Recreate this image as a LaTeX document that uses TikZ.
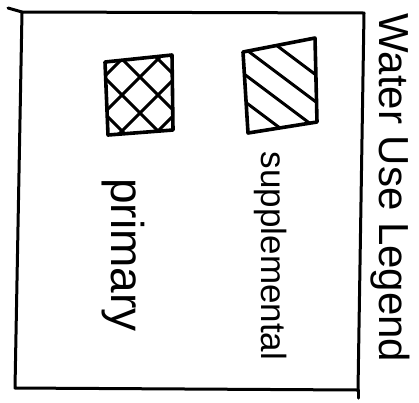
\documentclass[tikz,border=0pt]{standalone}
\usepackage{fontspec}
\setmainfont{Liberation Sans}
\begin{document}
\begin{tikzpicture}[x=1pt,y=-1pt,line cap=round,line join=round,frame/.style={line width=3pt},swatch/.style={line width=3.6pt},hatch/.style={line width=3pt},legtext/.style={rotate=-90,inner sep=0pt,font=\fontsize{#1}{#1}\selectfont},legtext/.default=40]
\useasboundingbox (0,0) rectangle (419,402);
% outer frame
\coordinate (tl) at (22,12);\coordinate (tr) at (364,13);\coordinate (br) at (358,390);\coordinate (bl) at (15,388);
\draw[frame] (tl)--(tr)--(br)--(bl)--cycle;
\draw[frame] (tl)--++(-14,-4);\draw[frame] (br)--++(0,8);
% primary swatch, crosshatch
\coordinate (p1) at (105,62);\coordinate (p2) at (172,55);\coordinate (p3) at (173,130);\coordinate (p4) at (108,135);
\begin{scope}
\clip (p1)--(p2)--(p3)--(p4)--cycle;
\foreach \d in {-54,-18,18,54}{\draw[hatch] (80+\d,35)--++(120,120);\draw[hatch] (80+\d,155)--++(120,-120);}
\end{scope}
\draw[swatch] (p1)--(p2)--(p3)--(p4)--cycle;
% supplemental swatch, single hatch
\coordinate (s1) at (243,52);\coordinate (s2) at (315,38);\coordinate (s3) at (317,122);\coordinate (s4) at (248,133);
\begin{scope}
\clip (s1)--(s2)--(s3)--(s4)--cycle;
\foreach \d in {-40,-13,13,40}{\draw[hatch] (200,28+\d)--++(160,120);}
\end{scope}
\draw[swatch] (s1)--(s2)--(s3)--(s4)--cycle;
% texts
\node[legtext=42] (title) at (390,188) {Water Use Legend};
\node[legtext=35] (supp) at (271,256) {supplemental};
\node[legtext=46] (prim) at (123,255) {primary};
\end{tikzpicture}
\end{document}
